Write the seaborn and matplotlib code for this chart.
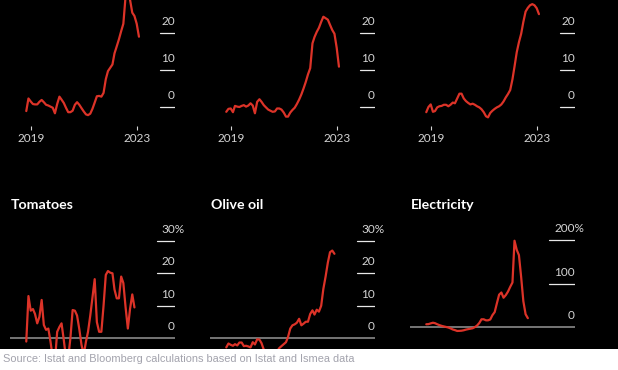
import pandas as pd
import seaborn as sns
import matplotlib.pyplot as plt
import matplotlib.dates as mdates
from matplotlib.patches import Rectangle

# Year-on-year price change, %, monthly from Nov 2018
# top row (titles are cut off in the reference)
top_left = [-1.1, 2.3, 1.5, 0.8, 0.7, 0.7, 1.4, 1.9, 1.3, 0.6, 0.4, 0.1, -0.2, -1.7,
            0.8, 2.8, 2.0, 1.1, -0.2, -1.4, -1.4, -1.0, 0.6, 1.3, 0.6, -0.3, -1.2,
            -2.0, -2.2, -1.8, -0.5, 1.2, 2.9, 3.0, 2.8, 3.8, 7.5, 9.7, 10.6, 11.5,
            14.5, 16.4, 18.3, 20.5, 22.5, 30.0, 32.0, 29.0, 25.5, 24.6, 22.5, 19.0]
top_mid = [-1.3, -0.5, -0.4, -1.4, 0.3, 0.1, 0.0, 0.3, 0.5, 0.1, 0.4, 1.0, 0.4, -1.7,
           1.4, 2.1, 1.4, 0.5, -0.1, -0.7, -1.0, -1.3, -1.2, -0.4, -0.4, -0.7, -1.5,
           -2.6, -2.6, -1.5, -0.8, -0.2, 0.8, 2.0, 3.4, 5.0, 6.8, 8.8, 10.5, 17.2,
           18.9, 20.3, 21.4, 23.0, 24.4, 24.0, 23.6, 22.2, 20.8, 19.8, 16.0, 10.9]
top_right = [-1.4, 0.0, 0.7, -1.3, -1.1, -0.1, 0.2, 0.3, 0.6, 0.6, 0.2, 0.6, 1.2, 1.0,
             2.3, 3.6, 3.6, 2.3, 1.6, 1.1, 0.7, 0.9, 0.6, 0.2, -0.1, -0.6, -1.4,
             -2.5, -2.8, -1.6, -1.0, -0.5, -0.1, 0.2, 0.7, 1.5, 2.6, 3.5, 4.6, 7.5,
             10.9, 14.8, 17.5, 19.8, 23.0, 25.8, 26.8, 27.5, 27.8, 27.5, 26.7, 25.1]

# bottom row
tomatoes = [-1.0, 13.0, 8.5, 9.0, 7.5, 4.6, 6.6, 11.8, 4.1, 2.6, 3.0, -1.0, -6.0, -7.0,
            2.0, 3.5, 4.6, -0.5, -6.0, -6.0, 0.0, 8.7, 8.5, 7.0, 2.8, -2.0, -5.0,
            -1.0, 2.0, 7.0, 12.5, 18.2, 5.0, 2.0, 2.0, 10.0, 19.5, 20.7, 20.2, 20.0,
            15.0, 12.3, 12.3, 19.0, 17.0, 9.5, 3.0, 9.0, 13.5, 9.5]
olive_oil = [-2.8, -1.6, -2.0, -2.3, -1.8, -2.2, -1.3, -1.3, -2.4, -2.3, -2.5, -2.8,
             -1.2, -1.9, -0.3, -0.4, -1.5, -3.5, -5.0, -6.0, -6.0, -6.0, -5.0, -4.0,
             -3.0, -2.4, -1.8, -1.2, 0.4, 3.0, 4.0, 4.3, 4.8, 6.0, 4.0, 4.5, 5.1, 5.1,
             7.5, 8.6, 7.3, 8.8, 8.2, 10.0, 15.2, 19.0, 23.3, 26.5, 27.0, 26.0]
electricity = [7.0, 7.3, 9.0, 10.5, 9.5, 7.0, 5.0, 3.3, 2.0, 0.8, -0.5, -2.5, -5.0,
               -6.5, -8.4, -8.2, -7.8, -6.8, -5.3, -4.2, -3.2, -2.2, 0.5, 4.0, 10.0,
               18.4, 18.4, 16.0, 16.0, 18.0, 28.0, 35.0, 55.0, 75.0, 80.0, 68.0, 74.0,
               82.0, 93.0, 103.0, 199.0, 178.0, 166.0, 115.0, 60.0, 30.0, 21.0]

bottom_titles = ["Tomatoes", "Olive oil", "Electricity"]
small_ticks = [0, 10, 20]
small_labels = ["0", "10", "20"]
food_ticks = [0, 10, 20, 30]
food_labels = ["0", "10", "20", "30"]
power_ticks = [0, 100, 200]
power_labels = ["0", "100", "200"]

RED = "#dc3328"
LABEL = "#d4d4d4"
TICKLINE = "#e8e8e8"
BASE = "#8a8a8a"

sns.set_style("dark")
plt.rcParams["font.family"] = ["Lato", "DejaVu Sans"]

W, H = 618, 370
fig = plt.figure(figsize=(W / 100, H / 100), dpi=100, facecolor="white")
fig.patches.append(Rectangle((0, (H - 349) / H), 1, 349 / H, transform=fig.transFigure,
                             facecolor="black", edgecolor="none", zorder=-10))

# width of the "%" sign so the numbers stay right-aligned and the sign hangs out
renderer = fig.canvas.get_renderer()
tmp = fig.text(0, 0, "%", fontsize=8.5)
pct_w = tmp.get_window_extent(renderer).width * 72 / 100
tmp.remove()

d19 = mdates.date2num(pd.Timestamp("2019-01-01"))
d23 = mdates.date2num(pd.Timestamp("2023-01-01"))
per_px = (d23 - d19) / 106


def make_ax(col, top_px, bottom_px, ylim):
    ax = fig.add_axes([(col * 200 + 10) / W, (H - bottom_px) / H, 165 / W,
                       (bottom_px - top_px) / H])
    ax.set_facecolor("none")
    for s in ax.spines.values():
        s.set_visible(False)
    ax.grid(False)
    ax.set_xlim(d19 - 20.7 * per_px, d19 + 144.3 * per_px)
    ax.set_ylim(*ylim)
    ax.set_yticks([])
    return ax


def y_axis(ax, ticks, labels, line_from, grey_zero, pct=False):
    x0 = (line_from - 10) / 165
    for i, (v, lab) in enumerate(zip(ticks, labels)):
        if v == 0 and grey_zero:
            ax.axhline(0, 0, 1, color=BASE, lw=1.2, zorder=1)
        else:
            ax.axhline(v, x0, 1, color=TICKLINE, lw=0.9, zorder=1)
        dx = 0
        if pct and i == len(ticks) - 1:
            lab = lab + "%"
            dx = pct_w
        ax.annotate(lab, xy=(1, v), xycoords=ax.get_yaxis_transform(),
                    xytext=(dx, 8.3), textcoords="offset points", ha="right",
                    va="center", color=LABEL, fontsize=8.5)


# top row
for col, vals in enumerate([top_left, top_mid, top_right]):
    ax = make_ax(col, 0, 126, ((107 - 126) / 3.7, 107 / 3.7))
    dates = pd.date_range("2018-11-01", periods=len(vals), freq="MS")
    sns.lineplot(x=dates, y=vals, ax=ax, color=RED, linewidth=1.6, zorder=3)
    y_axis(ax, small_ticks, small_labels, 160, grey_zero=False)
    ax.set_xticks([pd.Timestamp("2019-01-01"), pd.Timestamp("2023-01-01")])
    ax.set_xticklabels(["2019", "2023"])
    ax.tick_params(axis="x", colors=LABEL, length=3, width=0.8, pad=2, labelsize=8.5,
                   bottom=True)
    ax.set_xlabel("")
    ax.set_ylabel("")

# bottom row
bottom = [(tomatoes, food_ticks, food_labels, 157, (338.3 - 349) / 3.25, (338.3 - 225) / 3.25),
          (olive_oil, food_ticks, food_labels, 157, (338.3 - 349) / 3.25, (338.3 - 225) / 3.25),
          (electricity, power_ticks, power_labels, 149, (327.3 - 349) / 0.435, (327.3 - 225) / 0.435)]
for col, (vals, ticks, labels, lf, lo, hi) in enumerate(bottom):
    ax = make_ax(col, 225, 349, (lo, hi))
    dates = pd.date_range("2018-11-01", periods=len(vals), freq="MS")
    sns.lineplot(x=dates, y=vals, ax=ax, color=RED, linewidth=1.6, zorder=3)
    y_axis(ax, ticks, labels, lf, grey_zero=True, pct=True)
    ax.set_xticks([])
    ax.set_xlabel("")
    ax.set_ylabel("")
    fig.text((col * 200 + 11) / W, 1 - 205 / H, bottom_titles[col], color="white",
             fontsize=10.2, fontweight="bold", ha="left", va="center")

fig.text(3 / W, 1 - 359 / H,
         "Source: Istat and Bloomberg calculations based on Istat and Ismea data",
         color="#a3a3ad", fontsize=7.9, family="Liberation Sans", ha="left", va="center")

fig.savefig("out.png", dpi=100, facecolor="white")
